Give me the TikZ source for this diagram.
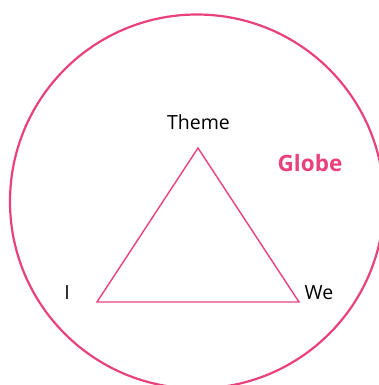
\documentclass[tikz,border=0pt]{standalone}
\usepackage{fontspec}
\setmainfont{Open Sans}
\usepackage{tikz}
\usetikzlibrary{positioning}
\usepackage{xcolor}
\definecolor{cpink}{HTML}{E8417B}

\begin{document}
\begin{tikzpicture}[
	x=1pt, y=-1pt,
	% Estilo para el circulo exterior
	globecircle/.style={
		draw=cpink,
		line width=2.2pt
	},
	% Estilo para el triangulo
	triangleline/.style={
		draw=cpink,
		line width=1.4pt,
		line join=miter
	},
	% Estilo para las etiquetas de los vertices
	cornerlabel/.style={
		anchor=base,
		inner sep=0pt,
		font=\fontsize{19.5}{22}\selectfont,
		text=black
	},
	% Estilo para la etiqueta del globo
	globelabel/.style={
		anchor=base,
		inner sep=0pt,
		font=\fontsize{22.5}{26}\selectfont\bfseries,
		text=cpink
	}
	]
	
	\useasboundingbox (0,0) rectangle (379,385);
	
	% --- Circulo ---
	\coordinate (centre) at (197,201.5);
	\draw[globecircle] (centre) circle[radius=187pt];
	
	% --- Vertices del triangulo ---
	\coordinate (apex) at (198,148);
	\coordinate (left) at (97,302);
	\coordinate (right) at (299,302);
	\draw[triangleline] (apex) -- (right) -- (left) -- cycle;
	
	% --- Etiquetas ---
	\node[cornerlabel] (theme) at (198.5,129) {Theme};
	\node[cornerlabel] (i) at (67,299) {I};
	\node[cornerlabel] (we) at (319,299) {We};
	\node[globelabel] (globe) at (310,171.5) {Globe};
	
\end{tikzpicture}
\end{document}
